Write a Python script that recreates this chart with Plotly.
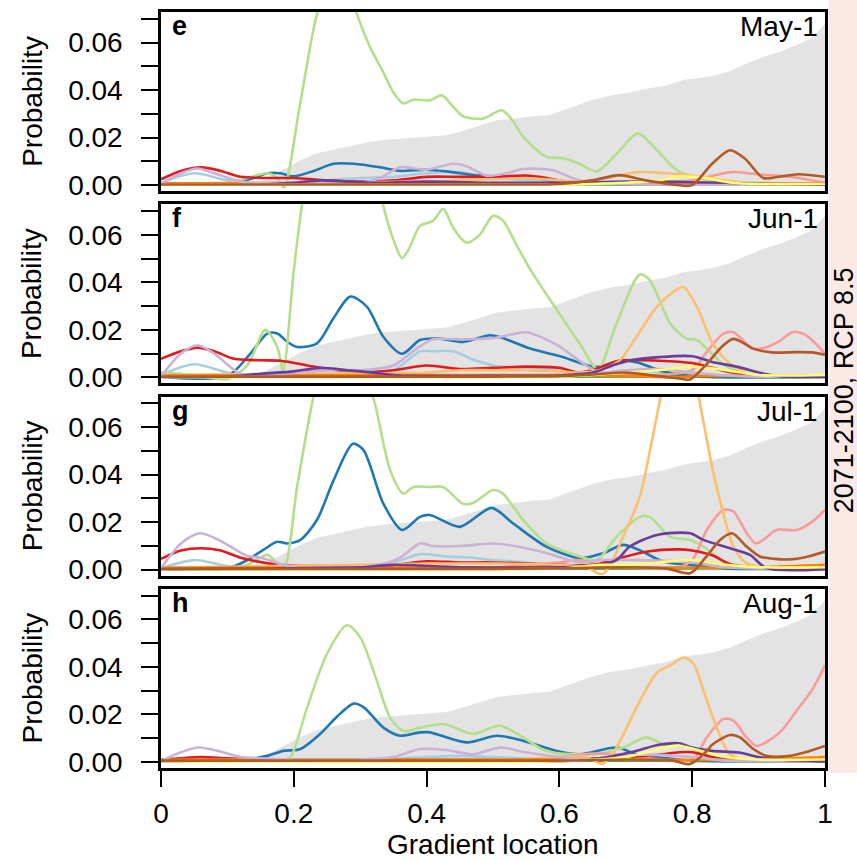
import plotly.graph_objects as go

# ---------------- data ----------------
X_TICKS = [0, 0.2, 0.4, 0.6, 0.8, 1.0]
X_TICK_LABELS = ["0", "0.2", "0.4", "0.6", "0.8", "1"]
Y_TICKS = [0, 0.01, 0.02, 0.03, 0.04, 0.05, 0.06, 0.07]
Y_TICK_LABELS = ["0.00", "", "0.02", "", "0.04", "", "0.06", ""]
PANEL_LETTERS = ["e", "f", "g", "h"]
PANEL_DATES = ["May-1", "Jun-1", "Jul-1", "Aug-1"]
SIDE_LABEL = "2071-2100, RCP 8.5"
SERIES = ["lblue", "blue", "lgreen", "green", "pink", "red",
          "lorange", "orange", "lpurple", "purple", "yellow", "brown"]
COLORS = {"lblue": "#A6CEE3", "blue": "#1F78B4", "lgreen": "#B2DF8A", "green": "#33A02C",
          "pink": "#FB9A99", "red": "#E31A1C", "lorange": "#FDBF6F", "orange": "#FF7F00",
          "lpurple": "#CAB2D6", "purple": "#6A3D9A", "yellow": "#FFFF70", "brown": "#B15928"}

# grey envelope (same in every panel)
gray_x = [0.14, 0.16, 0.18, 0.21, 0.235, 0.26, 0.285, 0.31, 0.335, 0.37, 0.405, 0.43, 0.45, 0.48,
          0.506, 0.53, 0.56, 0.585, 0.606, 0.63, 0.65, 0.68, 0.706, 0.73, 0.76, 0.79, 0.807, 0.83,
          0.857, 0.88, 0.907, 0.93, 0.957, 0.98, 1.0]
gray_y = [0.0, 0.003, 0.006, 0.0105, 0.0134, 0.015, 0.0163, 0.018, 0.019, 0.0198, 0.0206, 0.021,
          0.0225, 0.025, 0.0273, 0.028, 0.029, 0.0295, 0.0315, 0.034, 0.036, 0.038, 0.039, 0.0405,
          0.042, 0.0445, 0.045, 0.046, 0.048, 0.051, 0.054, 0.056, 0.059, 0.062, 0.068]

# ---- panel e (May-1)
e_lblue_x = [0, 0.05, 0.1, 0.15, 0.2, 0.25, 0.3, 0.35, 0.4, 0.45, 0.5, 0.55, 0.6, 0.65, 0.7, 1.0]
e_lblue_y = [0.001, 0.005, 0.002, 0.0003, 0.001, 0.002, 0.003, 0.0035, 0.005, 0.0055, 0.003, 0.002, 0.001, 0.0005, 0.0003, 0.0002]
e_blue_x = [0, 0.1, 0.14, 0.16, 0.18, 0.2, 0.23, 0.26, 0.29, 0.33, 0.36, 0.4, 0.43, 0.48, 0.52, 0.56, 0.6, 0.65, 0.7, 1.0]
e_blue_y = [0.0005, 0.0005, 0.003, 0.005, 0.005, 0.0037, 0.006, 0.009, 0.009, 0.0075, 0.006, 0.0065, 0.0058, 0.004, 0.0035, 0.003, 0.0015, 0.0008, 0.0005, 0.0002]
e_lgreen_x = [0, 0.1, 0.13, 0.16, 0.175, 0.185, 0.21, 0.235, 0.26, 0.28, 0.295, 0.315, 0.334, 0.35, 0.365, 0.38, 0.405, 0.423, 0.44, 0.455, 0.485, 0.513, 0.53, 0.545, 0.58, 0.606, 0.63, 0.656, 0.687, 0.718, 0.747, 0.777, 0.83, 0.9, 1.0]
e_lgreen_y = [0.0005, 0.0008, 0.003, 0.005, 0.003, -0.001, 0.035, 0.072, 0.09, 0.085, 0.072, 0.058, 0.048, 0.039, 0.0344, 0.036, 0.0357, 0.0378, 0.033, 0.029, 0.028, 0.0315, 0.027, 0.0205, 0.012, 0.0113, 0.009, 0.0058, 0.0134, 0.0218, 0.0147, 0.0063, 0.002, 0.001, 0.0005]
e_green_x = [0, 0.5, 1.0]
e_green_y = [0.0003, 0.0003, 0.0005]
e_pink_x = [0, 0.5, 0.7, 0.75, 0.8, 0.83, 0.86, 0.9, 0.93, 0.96, 1.0]
e_pink_y = [0.0005, 0.0005, 0.0008, 0.001, 0.002, 0.004, 0.0055, 0.0045, 0.004, 0.003, 0.001]
e_red_x = [0, 0.03, 0.06, 0.09, 0.12, 0.16, 0.2, 0.25, 0.3, 0.35, 0.4, 0.45, 0.5, 0.55, 0.58, 0.62, 0.7, 1.0]
e_red_y = [0.0025, 0.006, 0.0075, 0.006, 0.0035, 0.003, 0.003, 0.002, 0.0015, 0.002, 0.0035, 0.0035, 0.0035, 0.004, 0.003, 0.001, 0.0008, 0.0005]
e_lorange_x = [0, 0.2, 0.4, 0.45, 0.5, 0.55, 0.6, 0.63, 0.67, 0.72, 0.76, 0.8, 0.85, 0.9, 1.0]
e_lorange_y = [0.0008, 0.001, 0.0015, 0.002, 0.0025, 0.003, 0.002, 0.0015, 0.003, 0.0055, 0.005, 0.004, 0.002, 0.0005, 0.0002]
e_orange_x = [0, 0.5, 0.8, 1.0]
e_orange_y = [0.0008, 0.0008, 0.0005, 0.0005]
e_lpurple_x = [0, 0.03, 0.055, 0.08, 0.12, 0.15, 0.2, 0.25, 0.3, 0.33, 0.36, 0.4, 0.44, 0.46, 0.49, 0.52, 0.545, 0.59, 0.63, 0.7, 1.0]
e_lpurple_y = [0.0005, 0.005, 0.007, 0.005, 0.0015, 0.001, 0.001, 0.001, 0.001, 0.003, 0.0075, 0.0065, 0.009, 0.008, 0.004, 0.005, 0.0068, 0.0063, 0.002, 0.0005, 0.0003]
e_purple_x = [0, 0.15, 0.2, 0.24, 0.28, 0.32, 0.4, 0.5, 0.6, 0.7, 0.75, 0.8, 0.85, 0.9, 1.0]
e_purple_y = [0.0002, 0.0003, 0.001, 0.002, 0.0015, 0.001, 0.0015, 0.001, 0.001, 0.0015, 0.0015, 0.0012, 0.001, 0.0005, 0.0002]
e_yellow_x = [0, 0.6, 0.65, 0.7, 0.75, 0.78, 0.82, 0.86, 0.9, 1.0]
e_yellow_y = [0.0002, 0.0002, 0.0005, 0.001, 0.002, 0.0035, 0.003, 0.001, 0.0005, 0.0005]
e_brown_x = [0, 0.5, 0.6, 0.65, 0.69, 0.73, 0.78, 0.8, 0.83, 0.857, 0.88, 0.907, 0.93, 0.96, 1.0]
e_brown_y = [0.0003, 0.0003, 0.0005, 0.002, 0.0042, 0.002, 0.0, 0.0, 0.009, 0.0147, 0.011, 0.003, 0.0035, 0.0046, 0.0035]

# ---- panel f (Jun-1)
f_lblue_x = [0, 0.05, 0.1, 0.15, 0.2, 0.25, 0.3, 0.35, 0.39, 0.41, 0.44, 0.47, 0.5, 0.55, 0.6, 0.65, 0.7, 0.75, 0.8, 0.85, 1.0]
f_lblue_y = [0.001, 0.0055, 0.002, 0.0005, 0.002, 0.003, 0.003, 0.003, 0.011, 0.011, 0.011, 0.0075, 0.005, 0.004, 0.003, 0.0015, 0.003, 0.002, 0.001, 0.0005, 0.0003]
f_blue_x = [0, 0.1, 0.134, 0.16, 0.175, 0.19, 0.205, 0.235, 0.26, 0.285, 0.31, 0.335, 0.363, 0.39, 0.42, 0.455, 0.495, 0.51, 0.556, 0.606, 0.656, 0.691, 0.716, 0.752, 0.8, 1.0]
f_blue_y = [0.0003, 0.0005, 0.0098, 0.0184, 0.0185, 0.015, 0.0128, 0.0143, 0.025, 0.034, 0.0298, 0.017, 0.0099, 0.0157, 0.0163, 0.0149, 0.0177, 0.017, 0.0121, 0.0085, 0.0043, 0.0071, 0.0064, 0.0028, 0.0005, 0.0002]
f_lgreen_x = [0, 0.05, 0.1, 0.13, 0.157, 0.175, 0.184, 0.2, 0.212, 0.23, 0.26, 0.29, 0.32, 0.335, 0.35, 0.363, 0.375, 0.39, 0.41, 0.425, 0.44, 0.46, 0.48, 0.5, 0.515, 0.535, 0.556, 0.596, 0.631, 0.658, 0.686, 0.721, 0.736, 0.767, 0.792, 0.807, 0.847, 0.882, 1.0]
f_lgreen_y = [0.002, 0.001, -0.0007, 0.005, 0.02, 0.0128, 0.003, 0.045, 0.072, 0.1, 0.12, 0.12, 0.095, 0.072, 0.058, 0.0502, 0.055, 0.0638, 0.066, 0.071, 0.063, 0.0567, 0.06, 0.068, 0.066, 0.056, 0.0455, 0.0285, 0.014, 0.0034, 0.0226, 0.0433, 0.041, 0.0226, 0.0162, 0.0157, 0.0055, 0.0013, 0.0005]
f_green_x = [0, 0.5, 1.0]
f_green_y = [0.0003, 0.0003, 0.0005]
f_pink_x = [0, 0.5, 0.6, 0.65, 0.7, 0.75, 0.8, 0.82, 0.847, 0.862, 0.875, 0.89, 0.91, 0.93, 0.952, 0.97, 0.985, 1.0]
f_pink_y = [0.0005, 0.0005, 0.001, 0.001, 0.001, 0.001, 0.003, 0.01, 0.0184, 0.019, 0.016, 0.0121, 0.0125, 0.015, 0.0191, 0.018, 0.0145, 0.0099]
f_red_x = [0, 0.03, 0.055, 0.08, 0.11, 0.15, 0.18, 0.22, 0.25, 0.3, 0.35, 0.4, 0.45, 0.5, 0.55, 0.6, 0.63, 0.66, 0.69, 0.75, 0.8, 0.83, 0.86, 0.9, 1.0]
f_red_y = [0.0078, 0.011, 0.0125, 0.011, 0.0078, 0.0072, 0.007, 0.005, 0.0035, 0.002, 0.003, 0.005, 0.0035, 0.004, 0.0045, 0.004, 0.002, 0.004, 0.007, 0.007, 0.006, 0.004, 0.002, 0.0008, 0.0005]
f_lorange_x = [0, 0.2, 0.4, 0.45, 0.5, 0.55, 0.6, 0.63, 0.66, 0.69, 0.716, 0.747, 0.777, 0.787, 0.807, 0.831, 0.857, 0.887, 0.92, 1.0]
f_lorange_y = [0.001, 0.0015, 0.002, 0.003, 0.003, 0.003, 0.0025, 0.002, 0.003, 0.007, 0.017, 0.0298, 0.037, 0.038, 0.0298, 0.0142, 0.0057, 0.0013, 0.0005, 0.0003]
f_orange_x = [0, 0.6, 0.7, 0.78, 0.8, 1.0]
f_orange_y = [0.0008, 0.001, 0.0005, 0.0, 0.0005, 0.0005]
f_lpurple_x = [0, 0.03, 0.055, 0.08, 0.12, 0.16, 0.2, 0.25, 0.3, 0.35, 0.375, 0.39, 0.41, 0.45, 0.5, 0.55, 0.58, 0.6, 0.63, 0.66, 0.7, 0.75, 0.8, 0.85, 0.9, 1.0]
f_lpurple_y = [0.0003, 0.01, 0.0135, 0.01, 0.0015, 0.001, 0.002, 0.003, 0.003, 0.005, 0.01, 0.013, 0.016, 0.016, 0.0165, 0.019, 0.016, 0.013, 0.007, 0.002, 0.003, 0.0035, 0.002, 0.0008, 0.0003, 0.0002]
f_purple_x = [0, 0.1, 0.15, 0.2, 0.24, 0.28, 0.32, 0.36, 0.4, 0.5, 0.6, 0.65, 0.68, 0.706, 0.75, 0.8, 0.83, 0.87, 0.9, 0.93, 1.0]
f_purple_y = [0.0002, 0.0003, 0.0015, 0.0025, 0.004, 0.003, 0.002, 0.0008, 0.0006, 0.0006, 0.0008, 0.002, 0.005, 0.0071, 0.0085, 0.0089, 0.0065, 0.0043, 0.002, 0.0005, 0.0002]
f_yellow_x = [0, 0.6, 0.65, 0.7, 0.75, 0.8, 0.85, 0.9, 1.0]
f_yellow_y = [0.0002, 0.0003, 0.001, 0.002, 0.003, 0.0045, 0.003, 0.001, 0.001]
f_brown_x = [0, 0.5, 0.6, 0.65, 0.7, 0.75, 0.78, 0.797, 0.82, 0.845, 0.862, 0.88, 0.892, 0.92, 0.957, 0.98, 1.0]
f_brown_y = [0.0003, 0.0003, 0.0005, 0.0012, 0.002, 0.0005, -0.0005, -0.0009, 0.005, 0.013, 0.0162, 0.014, 0.0121, 0.0105, 0.0106, 0.0105, 0.0095]

# ---- panel g (Jul-1)
g_lblue_x = [0, 0.05, 0.1, 0.15, 0.25, 0.35, 0.39, 0.43, 0.47, 0.5, 0.55, 0.6, 0.65, 1.0]
g_lblue_y = [0.0005, 0.004, 0.0015, 0.0003, 0.001, 0.003, 0.0065, 0.0055, 0.005, 0.004, 0.003, 0.001, 0.0005, 0.0003]
g_blue_x = [0, 0.1, 0.13, 0.154, 0.175, 0.19, 0.21, 0.235, 0.26, 0.289, 0.305, 0.335, 0.363, 0.39, 0.405, 0.45, 0.498, 0.53, 0.58, 0.631, 0.666, 0.696, 0.72, 0.756, 0.807, 0.85, 1.0]
g_blue_y = [0.0003, 0.0005, 0.004, 0.0083, 0.0117, 0.011, 0.0125, 0.021, 0.0377, 0.053, 0.0503, 0.0277, 0.0167, 0.0222, 0.023, 0.018, 0.026, 0.0195, 0.0097, 0.0048, 0.0069, 0.0104, 0.0083, 0.0034, 0.0017, 0.0005, 0.0003]
g_lgreen_x = [0, 0.1, 0.13, 0.16, 0.17, 0.185, 0.205, 0.229, 0.25, 0.28, 0.3, 0.32, 0.345, 0.365, 0.38, 0.405, 0.425, 0.455, 0.47, 0.5, 0.515, 0.545, 0.581, 0.631, 0.656, 0.686, 0.721, 0.736, 0.767, 0.797, 0.817, 0.847, 0.88, 1.0]
g_lgreen_y = [0.001, 0.0, 0.002, 0.0062, 0.0041, 0.001, 0.035, 0.072, 0.095, 0.1, 0.085, 0.072, 0.042, 0.032, 0.0348, 0.0348, 0.0348, 0.0277, 0.028, 0.0335, 0.032, 0.021, 0.011, 0.0055, 0.004, 0.0138, 0.0222, 0.0222, 0.0138, 0.0125, 0.0097, 0.0034, 0.0013, 0.0008]
g_green_x = [0, 0.5, 1.0]
g_green_y = [0.0003, 0.0003, 0.0008]
g_pink_x = [0, 0.5, 0.55, 0.6, 0.63, 0.66, 0.7, 0.78, 0.8, 0.822, 0.847, 0.862, 0.882, 0.895, 0.907, 0.927, 0.957, 0.98, 1.0]
g_pink_y = [0.0005, 0.0008, 0.002, 0.003, 0.004, 0.002, 0.001, 0.001, 0.004, 0.0167, 0.0251, 0.0245, 0.0153, 0.0111, 0.0125, 0.0167, 0.0167, 0.02, 0.0251]
g_red_x = [0, 0.03, 0.06, 0.09, 0.12, 0.18, 0.25, 0.35, 0.4, 0.45, 0.5, 0.6, 0.65, 0.68, 0.73, 0.78, 0.8, 0.83, 0.86, 0.9, 1.0]
g_red_y = [0.0045, 0.008, 0.009, 0.008, 0.005, 0.002, 0.0015, 0.002, 0.0035, 0.003, 0.003, 0.002, 0.002, 0.004, 0.0075, 0.0085, 0.008, 0.006, 0.002, 0.001, 0.0008]
g_lorange_x = [0, 0.3, 0.4, 0.5, 0.6, 0.64, 0.665, 0.68, 0.696, 0.721, 0.74, 0.76, 0.785, 0.8, 0.815, 0.831, 0.847, 0.862, 0.882, 0.91, 1.0]
g_lorange_y = [0.0008, 0.002, 0.0025, 0.0025, 0.002, 0.001, -0.002, 0.004, 0.0138, 0.0306, 0.055, 0.08, 0.09, 0.085, 0.065, 0.042, 0.0236, 0.0097, 0.0027, 0.001, 0.0008]
g_orange_x = [0, 0.6, 0.8, 0.9, 1.0]
g_orange_y = [0.0008, 0.001, 0.0008, 0.001, 0.002]
g_lpurple_x = [0, 0.03, 0.059, 0.09, 0.13, 0.15, 0.2, 0.25, 0.3, 0.33, 0.36, 0.39, 0.41, 0.45, 0.5, 0.53, 0.58, 0.63, 0.66, 0.72, 0.8, 0.85, 1.0]
g_lpurple_y = [0.0005, 0.011, 0.0153, 0.012, 0.0057, 0.005, 0.001, 0.001, 0.001, 0.002, 0.005, 0.011, 0.0099, 0.0099, 0.011, 0.01, 0.007, 0.003, 0.004, 0.004, 0.003, 0.001, 0.0003]
g_purple_x = [0, 0.15, 0.25, 0.3, 0.35, 0.45, 0.6, 0.65, 0.686, 0.706, 0.747, 0.797, 0.817, 0.857, 0.887, 0.912, 1.0]
g_purple_y = [0.0002, 0.0003, 0.0008, 0.001, 0.002, 0.001, 0.001, 0.0015, 0.004, 0.0097, 0.0146, 0.0153, 0.0125, 0.009, 0.0062, 0.0006, 0.0002]
g_yellow_x = [0, 0.6, 0.66, 0.7, 0.75, 0.8, 0.85, 0.9, 1.0]
g_yellow_y = [0.0002, 0.0005, 0.002, 0.002, 0.003, 0.004, 0.002, 0.001, 0.001]
g_brown_x = [0, 0.5, 0.6, 0.7, 0.76, 0.797, 0.82, 0.842, 0.86, 0.882, 0.902, 0.925, 0.947, 0.97, 1.0]
g_brown_y = [0.0003, 0.0003, 0.0005, 0.001, 0.0005, -0.0015, 0.005, 0.0125, 0.0153, 0.0097, 0.0055, 0.0045, 0.0043, 0.0052, 0.0076]

# ---- panel h (Aug-1)
h_lblue_x = [0, 0.05, 0.1, 0.3, 0.4, 0.45, 0.5, 0.6, 1.0]
h_lblue_y = [0.0005, 0.0012, 0.0005, 0.0008, 0.002, 0.0025, 0.002, 0.001, 0.0005]
h_blue_x = [0, 0.1, 0.13, 0.16, 0.184, 0.21, 0.24, 0.265, 0.29, 0.305, 0.335, 0.36, 0.39, 0.405, 0.46, 0.506, 0.545, 0.596, 0.631, 0.686, 0.716, 0.75, 0.8, 1.0]
h_blue_y = [0.0002, 0.0003, 0.001, 0.0025, 0.0046, 0.0054, 0.0118, 0.019, 0.0245, 0.023, 0.0144, 0.011, 0.0124, 0.0124, 0.0082, 0.011, 0.0089, 0.0046, 0.0032, 0.006, 0.0032, 0.0018, 0.0005, 0.0002]
h_lgreen_x = [0, 0.1, 0.18, 0.194, 0.22, 0.25, 0.28, 0.3, 0.325, 0.345, 0.365, 0.39, 0.425, 0.47, 0.51, 0.545, 0.58, 0.656, 0.696, 0.731, 0.756, 0.797, 0.831, 0.9, 1.0]
h_lgreen_y = [0.0005, 0.0005, 0.0008, 0.0017, 0.0228, 0.0455, 0.0575, 0.0524, 0.0342, 0.0186, 0.013, 0.0144, 0.0159, 0.0118, 0.0152, 0.0103, 0.0046, 0.0032, 0.006, 0.0103, 0.0074, 0.006, 0.0018, 0.001, 0.0008]
h_green_x = [0, 0.5, 1.0]
h_green_y = [0.0003, 0.0003, 0.0008]
h_pink_x = [0, 0.55, 0.6, 0.65, 0.69, 0.72, 0.8, 0.822, 0.847, 0.862, 0.882, 0.897, 0.932, 0.957, 0.98, 1.0]
h_pink_y = [0.0005, 0.001, 0.002, 0.0035, 0.003, 0.002, 0.001, 0.0103, 0.018, 0.0173, 0.0103, 0.0067, 0.0124, 0.0215, 0.03, 0.0406]
h_red_x = [0, 0.03, 0.06, 0.1, 0.15, 0.4, 0.6, 0.7, 0.75, 0.78, 0.8, 0.83, 0.86, 1.0]
h_red_y = [0.0008, 0.0015, 0.002, 0.0015, 0.001, 0.001, 0.001, 0.002, 0.003, 0.004, 0.004, 0.002, 0.001, 0.0008]
h_lorange_x = [0, 0.4, 0.55, 0.6, 0.64, 0.665, 0.686, 0.716, 0.747, 0.767, 0.787, 0.802, 0.817, 0.837, 0.857, 0.88, 1.0]
h_lorange_y = [0.0008, 0.001, 0.0012, 0.002, 0.002, -0.0008, 0.006, 0.0228, 0.0376, 0.0406, 0.0439, 0.0413, 0.03, 0.0144, 0.0032, 0.001, 0.0008]
h_orange_x = [0, 0.6, 0.8, 0.9, 1.0]
h_orange_y = [0.0008, 0.001, 0.0008, 0.001, 0.002]
h_lpurple_x = [0, 0.03, 0.055, 0.08, 0.12, 0.15, 0.2, 0.3, 0.35, 0.39, 0.43, 0.47, 0.51, 0.55, 0.6, 0.65, 0.72, 0.8, 0.85, 1.0]
h_lpurple_y = [0.0003, 0.004, 0.006, 0.005, 0.002, 0.0015, 0.001, 0.001, 0.002, 0.0054, 0.005, 0.0032, 0.006, 0.004, 0.002, 0.001, 0.003, 0.002, 0.0005, 0.0003]
h_purple_x = [0, 0.6, 0.65, 0.706, 0.75, 0.78, 0.8, 0.83, 0.87, 0.9, 0.93, 1.0]
h_purple_y = [0.0002, 0.0003, 0.001, 0.0039, 0.0072, 0.0078, 0.006, 0.0046, 0.0039, 0.002, 0.001, 0.0002]
h_yellow_x = [0, 0.6, 0.7, 0.75, 0.78, 0.82, 0.85, 0.9, 1.0]
h_yellow_y = [0.0002, 0.0003, 0.002, 0.0053, 0.0068, 0.004, 0.002, 0.001, 0.001]
h_brown_x = [0, 0.6, 0.7, 0.77, 0.797, 0.82, 0.831, 0.857, 0.872, 0.892, 0.912, 0.947, 0.97, 1.0]
h_brown_y = [0.0005, 0.0005, 0.001, 0.0005, -0.0009, 0.004, 0.0074, 0.0113, 0.0103, 0.0054, 0.0025, 0.0025, 0.004, 0.0067]

# ---------------- figure ----------------
FONT = "Liberation Sans, Arial, Helvetica, sans-serif"
g = globals()
fig = go.Figure()

# panel vertical domains (paper coords), top to bottom
DOMAINS = [[0.7628, 1.0], [0.5086, 0.7457], [0.2543, 0.4914], [0.0, 0.2372]]
YRANGE = [-0.0026, 0.0729]

for i, letter in enumerate(PANEL_LETTERS):
    n = "" if i == 0 else str(i + 1)
    xa, ya = "x" + n, "y" + n
    fig.add_trace(go.Scatter(x=gray_x, y=gray_y, mode="lines", line=dict(width=0, color="#E3E3E3"),
                             fill="tozeroy", fillcolor="#E3E3E3", xaxis=xa, yaxis=ya,
                             showlegend=False, hoverinfo="skip"))
    for s in SERIES:
        fig.add_trace(go.Scatter(x=g[f"{letter}_{s}_x"], y=g[f"{letter}_{s}_y"], mode="lines",
                                 line=dict(color=COLORS[s], width=2.6, shape="spline", smoothing=0.8),
                                 xaxis=xa, yaxis=ya, showlegend=False))
    bottom = i == 3
    fig.layout["xaxis" + n] = dict(
        domain=[0, 1], anchor=ya, range=[0, 1], showgrid=False, zeroline=False,
        showline=True, linecolor="black", linewidth=2.5, mirror=True,
        tickvals=X_TICKS, ticktext=X_TICK_LABELS,
        ticks="outside" if bottom else "", ticklen=16, tickwidth=2, tickcolor="black",
        showticklabels=bottom, ticklabelstandoff=3,
        tickfont=dict(size=28, family=FONT, color="black"))
    fig.layout["yaxis" + n] = dict(
        domain=DOMAINS[i], anchor=xa, range=YRANGE, showgrid=False, zeroline=False,
        showline=True, linecolor="black", linewidth=2.5, mirror=True,
        tickvals=Y_TICKS, ticktext=Y_TICK_LABELS, ticks="outside", ticklen=17, tickwidth=2,
        tickcolor="black", ticklabelstandoff=13,
        tickfont=dict(size=28, family=FONT, color="black"))
    fig.add_annotation(text=f"<b>{letter}</b>", xref=xa + " domain", yref=ya + " domain",
                       x=0.013, y=1.0, xanchor="left", yanchor="top", yshift=3, showarrow=False,
                       font=dict(size=27, family=FONT, color="black"))
    fig.add_annotation(text=PANEL_DATES[i], xref=xa + " domain", yref=ya + " domain",
                       x=0.992, y=1.0, xanchor="right", yanchor="top", yshift=3, showarrow=False,
                       font=dict(size=28, family=FONT, color="black"))
    fig.add_annotation(text="Probability", xref="paper", yref=ya + " domain",
                       x=-0.194, y=0.5, xanchor="center", yanchor="middle", textangle=-90,
                       showarrow=False, font=dict(size=28, family=FONT, color="black"))

fig.add_annotation(text="Gradient location", xref="paper", yref="paper", x=0.5, y=-0.101,
                   xanchor="center", yanchor="middle", showarrow=False,
                   font=dict(size=28, family=FONT, color="black"))
fig.add_shape(type="rect", xref="paper", yref="paper", x0=1.006, x1=1.1, y0=-0.0066, y1=1.05,
              fillcolor="#FCE9E6", line=dict(width=0), layer="below")
fig.add_annotation(text=SIDE_LABEL, xref="paper", yref="paper", x=1.029, y=0.5,
                   xanchor="center", yanchor="middle", textangle=-90, showarrow=False,
                   font=dict(size=27, family=FONT, color="black"))

fig.update_layout(width=857, height=860, margin=dict(l=161, r=32, t=9, b=92),
                  paper_bgcolor="white", plot_bgcolor="rgba(0,0,0,0)", showlegend=False)
fig.write_html("out.html")
